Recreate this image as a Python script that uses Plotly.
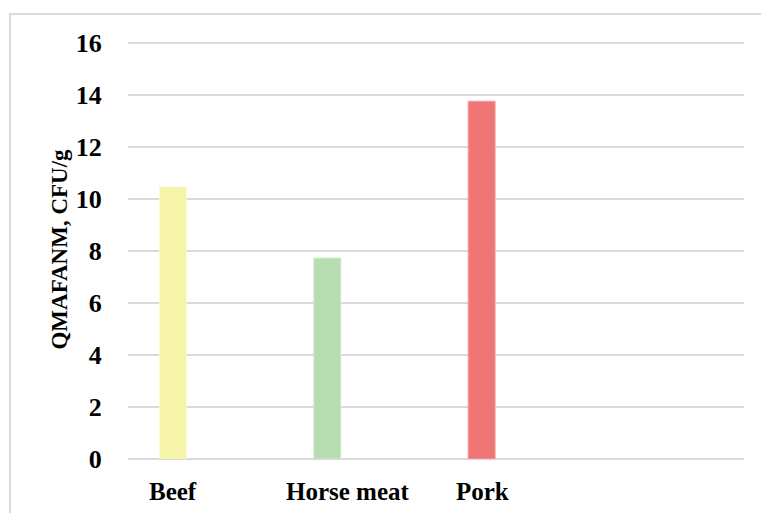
import plotly.graph_objects as go

categories = ["Beef", "Horse meat", "Pork"]
values = [10.45, 7.72, 13.75]
colors = ["#F6F4A8", "#B7DCB2", "#F07676"]
line_colors = ["#FAF9D0", "#D3EBD0", "#F6A4A4"]
label_shift = [0, 21, 1]
yticks = [0, 2, 4, 6, 8, 10, 12, 14, 16]

FONT = "Liberation Serif"

fig = go.Figure()
fig.add_trace(go.Bar(
    x=categories, y=values, width=0.175,
    marker=dict(color=colors, line=dict(color=line_colors, width=1)),
    showlegend=False,
))

for c, s in zip(categories, label_shift):
    fig.add_annotation(
        x=c, y=0, xref="x", yref="paper", text="<b>%s</b>" % c,
        showarrow=False, xshift=s, yshift=-32, yanchor="middle",
        font=dict(family=FONT, size=25, color="black"),
    )

W, H = 761, 513
L, R, T, B = 128, 17, 40, 54
pw, ph = W - L - R, H - T - B

fig.add_shape(
    type="rect", xref="paper", yref="paper",
    x0=(10 - L) / pw, x1=(W + 20 - L) / pw,
    y0=-(B + 20) / ph, y1=1 + (T - 14) / ph,
    line=dict(color="#D9D9D9", width=2), fillcolor="rgba(0,0,0,0)", layer="below",
)

fig.update_layout(
    width=W, height=H,
    margin=dict(l=L, r=R, t=T, b=B),
    paper_bgcolor="white", plot_bgcolor="white",
    font=dict(family=FONT, color="black"),
    xaxis=dict(
        type="category", range=[-0.2916, 3.70], showticklabels=False,
        showgrid=False, zeroline=False, showline=False, ticks="",
    ),
    yaxis=dict(
        range=[0, 16.1], tickvals=yticks,
        ticktext=["<b>%d</b>" % v for v in yticks],
        tickfont=dict(family=FONT, size=26, color="black"),
        showgrid=True, gridcolor="#D9D9D9", gridwidth=1.5,
        zeroline=True, zerolinecolor="#D9D9D9", zerolinewidth=1.5,
        showline=False, ticks="outside", ticklen=20, tickcolor="rgba(0,0,0,0)",
        title=dict(text="<b>QMAFANM, CFU/g</b>", font=dict(family=FONT, size=23, color="black"), standoff=1),
    ),
)

fig.write_html("out.html")
